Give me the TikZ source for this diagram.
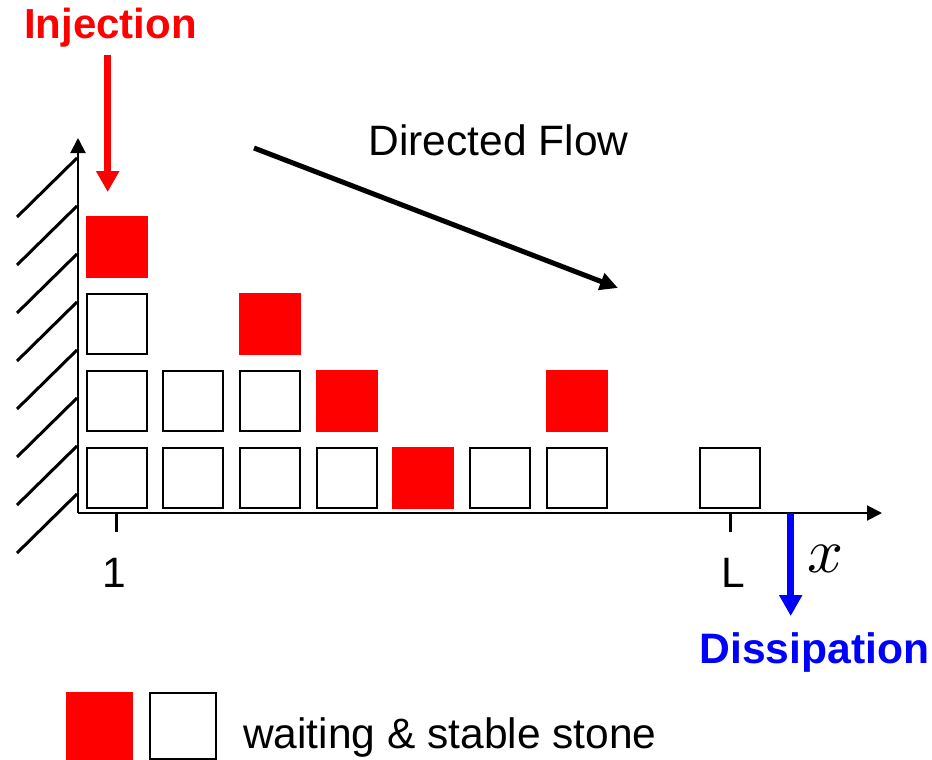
\documentclass[tikz,border=0pt]{standalone}
\usepackage{fontspec}
\setmainfont{Liberation Sans}
\usetikzlibrary{arrows.meta}
\definecolor{pred}{RGB}{255,0,0}
\definecolor{pblue}{RGB}{0,0,255}
\tikzset{
  stable/.style={draw=black, line width=2pt, fill=white, rectangle, minimum size=60pt, inner sep=0pt},
  waiting/.style={fill=pred, draw=none, rectangle, minimum size=62pt, inner sep=0pt},
  lbl/.style={inner sep=0pt, font=\fontsize{42.5}{50}\selectfont},
  axis/.style={line width=2pt, -{Triangle[width=15pt,length=15pt]}},
  hatch/.style={line width=3pt},
  tick/.style={line width=3pt},
}
\begin{document}
\begin{tikzpicture}[x=1pt, y=-1pt]
\useasboundingbox (0,0) rectangle (932,760);

% axes
\coordinate (O) at (78,513);
\coordinate (ytop) at (78,138);
\coordinate (xend) at (882,513);
\draw[axis] (O) -- (ytop);
\draw[axis] (O) -- (xend);

% wall hatching
\foreach \i in {0,...,7} {
  \coordinate (h\i a) at (17,{217+48*\i});
  \coordinate (h\i b) at (77,{158+48*\i});
  \draw[hatch] (h\i a) -- (h\i b);
}

% ticks
\coordinate (t1a) at (116,513); \coordinate (t1b) at (116,532);
\coordinate (tLa) at (730,513); \coordinate (tLb) at (730,532);
\draw[tick] (t1a) -- (t1b);
\draw[tick] (tLa) -- (tLb);
\node[lbl, anchor=base] (one) at (114,587) {1};
\node[lbl, anchor=base] (L) at (733,587) {L};
\node[scale=6.3, inner sep=0pt] (xl) at (825,559) {$x$};

% stones: column centres 116.5 + 76.7(c-1), row centres 478 - 76.9(r-1)
\node[stable]  (s11) at (116.5,478) {};
\node[stable]  (s12) at (116.5,401.1) {};
\node[stable]  (s13) at (116.5,324.2) {};
\node[waiting] (s14) at (116.5,247.3) {};
\node[stable]  (s21) at (193.2,478) {};
\node[stable]  (s22) at (193.2,401.1) {};
\node[stable]  (s31) at (269.9,478) {};
\node[stable]  (s32) at (269.9,401.1) {};
\node[waiting] (s33) at (269.9,324.2) {};
\node[stable]  (s41) at (346.6,478) {};
\node[waiting] (s42) at (346.6,401.1) {};
\node[waiting] (s51) at (423.3,478) {};
\node[stable]  (s61) at (500,478) {};
\node[stable]  (s71) at (576.7,478) {};
\node[waiting] (s72) at (576.7,401.1) {};
\node[stable]  (s91) at (730.1,478) {};

% injection
\node[lbl, anchor=base west, text=pred, font=\fontsize{42}{50}\selectfont\bfseries] (inj) at (24,38.5) {Injection};
\coordinate (injA) at (107.7,55);
\coordinate (injB) at (107.7,192);
\draw[pred, line width=7pt, -{Triangle[width=22pt,length=21pt]}] (injA) -- (injB);

% directed flow
\node[lbl, anchor=base west] (flow) at (368.5,155) {Directed Flow};
\coordinate (fA) at (254,148);
\coordinate (fB) at (618,288);
\draw[line width=5pt, -{Triangle[width=17pt,length=18pt]}] (fA) -- (fB);

% dissipation
\coordinate (dA) at (790.7,513);
\coordinate (dB) at (790.7,616);
\draw[pblue, line width=7pt, -{Triangle[width=22pt,length=21pt]}] (dA) -- (dB);
\node[lbl, anchor=base west, text=pblue, font=\fontsize{42.6}{50}\selectfont\bfseries] (diss) at (699.5,663) {Dissipation};

% legend
\node[fill=pred, rectangle, minimum size=67.6pt, inner sep=0pt] (legW) at (99.5,726.1) {};
\node[draw=black, line width=2pt, rectangle, minimum size=65.6pt, inner sep=0pt] (legS) at (182.9,726.1) {};
\node[lbl, anchor=base west] (legT) at (243,748.3) {waiting \& stable stone};
\end{tikzpicture}
\end{document}
